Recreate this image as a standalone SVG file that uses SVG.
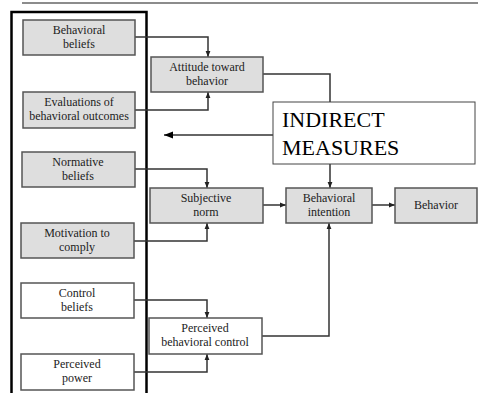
<svg xmlns="http://www.w3.org/2000/svg" width="478" height="393" viewBox="0 0 478 393" font-family="'Liberation Serif', 'Times New Roman', 'DejaVu Serif', serif">
<style>
  .g rect{fill:#dedede;stroke:#555;stroke-width:1.5}
  .w rect{fill:#fff;stroke:#555;stroke-width:1.5}
  .n text{font-size:12px;fill:#222;text-anchor:middle}
  .big{font-size:22px;fill:#000;text-anchor:start}
  .c path{fill:none;stroke:#333;stroke-width:1.5}
</style>
<defs>
  <marker id="a" viewBox="0 0 10 10" refX="10" refY="5" markerWidth="6" markerHeight="6" markerUnits="userSpaceOnUse" orient="auto">
    <path d="M0,1 L10,5 L0,9 z" fill="#222"/>
  </marker>
  <marker id="b" viewBox="0 0 10 10" refX="10" refY="5" markerWidth="9" markerHeight="9" markerUnits="userSpaceOnUse" orient="auto">
    <path d="M0,1 L10,5 L0,9 z" fill="#000"/>
  </marker>
</defs>
<rect width="478" height="393" fill="#fff"/>
<line x1="22" y1="3" x2="478" y2="3" stroke="#666" stroke-width="1.5"/>
<rect id="frame" x="11.5" y="12" width="135" height="390" fill="none" stroke="#000" stroke-width="2.5"/>

<g class="c" id="connectors">
  <path d="M135,37 H208 V57" marker-end="url(#a)"/>
  <path d="M135,110 H208 V92" marker-end="url(#a)"/>
  <path d="M263,74 H330 V188" marker-end="url(#a)"/>
  <path d="M135,169 H207 V188" marker-end="url(#a)"/>
  <path d="M134,241 H207 V223" marker-end="url(#a)"/>
  <path d="M263,205 H286" marker-end="url(#a)"/>
  <path d="M372,205 H395" marker-end="url(#a)"/>
  <path d="M134,300 H207 V318" marker-end="url(#a)"/>
  <path d="M134,372 H207 V354" marker-end="url(#a)"/>
  <path d="M262,336 H329 V223" marker-end="url(#a)"/>
  <path d="M273,135 H164" stroke="#000" stroke-width="2.5" marker-end="url(#b)"/>
</g>

<g id="behavioral-beliefs" class="n g"><rect x="23" y="20" width="112" height="35"/><text x="79" y="34">Behavioral</text><text x="79" y="48">beliefs</text></g>
<g id="evaluations" class="n g"><rect x="23" y="92" width="112" height="36"/><text x="79" y="106">Evaluations of</text><text x="79" y="120">behavioral outcomes</text></g>
<g id="normative-beliefs" class="n g"><rect x="22" y="152" width="113" height="35"/><text x="78" y="166">Normative</text><text x="78" y="180">beliefs</text></g>
<g id="motivation" class="n g"><rect x="21" y="223" width="113" height="35"/><text x="77" y="237">Motivation to</text><text x="77" y="251">comply</text></g>
<g id="control-beliefs" class="n w"><rect x="21" y="283" width="113" height="35"/><text x="77" y="297">Control</text><text x="77" y="311">beliefs</text></g>
<g id="perceived-power" class="n w"><rect x="21" y="354" width="113" height="36"/><text x="77" y="368">Perceived</text><text x="77" y="382">power</text></g>

<g id="attitude" class="n g"><rect x="151" y="57" width="112" height="35"/><text x="207" y="71">Attitude toward</text><text x="207" y="85">behavior</text></g>
<g id="subjective-norm" class="n g"><rect x="150" y="188" width="113" height="35"/><text x="206" y="202">Subjective</text><text x="206" y="216">norm</text></g>
<g id="pbc" class="n w"><rect x="149" y="318" width="113" height="36"/><text x="205" y="332">Perceived</text><text x="205" y="346">behavioral control</text></g>
<g id="intention" class="n g"><rect x="286" y="188" width="86" height="35"/><text x="329" y="202">Behavioral</text><text x="329" y="216">intention</text></g>
<g id="behavior" class="n g"><rect x="395" y="188" width="82" height="35"/><text x="436" y="209">Behavior</text></g>

<g id="indirect-measures">
  <rect x="273" y="102" width="202" height="62" fill="#fff" stroke="#444" stroke-width="1"/>
  <text class="big" x="282" y="127">INDIRECT</text>
  <text class="big" x="282" y="155">MEASURES</text>
</g>
</svg>
